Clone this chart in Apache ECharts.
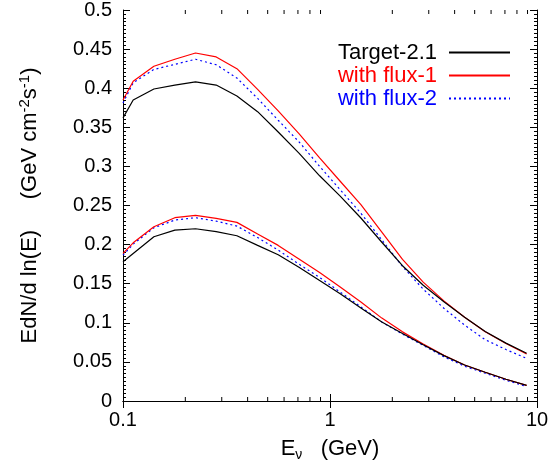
<!DOCTYPE html>
<html>
<head>
<meta charset="utf-8">
<script src="https://cdn.jsdelivr.net/npm/echarts@6/dist/echarts.min.js"></script>
<style>
html,body{margin:0;padding:0;background:#fff;}
#chart{width:559px;height:474px;}
</style>
</head>
<body>
<div id="chart"></div>
<script>
// Energies (GeV)
const energies = [0.1, 0.112, 0.141, 0.178, 0.224, 0.282, 0.355, 0.447, 0.562, 0.708, 0.891, 1.12, 1.41, 1.78, 2.24, 2.82, 3.55, 4.47, 5.62, 7.08, 8.91];
// Upper group of curves
const upperTarget = [0.362, 0.385, 0.399, 0.404, 0.408, 0.404, 0.390, 0.370, 0.344, 0.317, 0.288, 0.262, 0.234, 0.203, 0.173, 0.148, 0.127, 0.107, 0.089, 0.074, 0.061];
const upperFlux1  = [0.385, 0.409, 0.428, 0.437, 0.445, 0.440, 0.425, 0.3985, 0.371, 0.342, 0.311, 0.281, 0.251, 0.216, 0.181, 0.152, 0.128, 0.107, 0.0885, 0.0735, 0.060];
const upperFlux2  = [0.381, 0.407, 0.424, 0.4305, 0.437, 0.430, 0.413, 0.387, 0.359, 0.3315, 0.300, 0.270, 0.240, 0.206, 0.172, 0.143, 0.1186, 0.097, 0.0784, 0.0658, 0.0545];
// Lower group of curves
const lowerTarget = [0.178, 0.1887, 0.210, 0.2186, 0.2203, 0.2165, 0.2113, 0.199, 0.187, 0.171, 0.154, 0.137, 0.119, 0.101, 0.0864, 0.072, 0.058, 0.046, 0.0368, 0.0278, 0.0199];
const lowerFlux1  = [0.1887, 0.2023, 0.2228, 0.2344, 0.2374, 0.2335, 0.2284, 0.2135, 0.199, 0.1816, 0.1642, 0.1459, 0.1267, 0.106, 0.0884, 0.0729, 0.0585, 0.046, 0.0368, 0.0278, 0.0199];
const lowerFlux2  = [0.1865, 0.2006, 0.2215, 0.2314, 0.2344, 0.230, 0.2237, 0.209, 0.193, 0.175, 0.158, 0.1393, 0.1203, 0.101, 0.0855, 0.0712, 0.0565, 0.0445, 0.0355, 0.0265, 0.0186];
// Names / ticks
const seriesNames = ['Target-2.1', 'with flux-1', 'with flux-2'];
const xMinorTicks = [0.2, 0.3, 0.4, 0.5, 0.6, 0.7, 0.8, 0.9, 2, 3, 4, 5, 6, 7, 8, 9];

const FONT = "'Liberation Sans', Arial, Helvetica, sans-serif";
const colors = ['#000000', '#ff0000', '#0000ff'];
const pair = (ys) => energies.map((e, i) => [e, ys[i]]);

function lineSeries(name, ys, color, dashed) {
  return {
    name: name, type: 'line', data: pair(ys), symbol: 'none', smooth: false,
    lineStyle: { color: color, width: 1.2, type: dashed ? [2, 3] : 'solid' },
    itemStyle: { color: color },
    animation: false
  };
}

const chart = echarts.init(document.getElementById('chart'), null, { renderer: 'canvas' });

const axisCommon = {
  axisLine: { show: true, lineStyle: { color: '#000', width: 1 } },
  splitLine: { show: false }
};

const option = {
  animation: false,
  backgroundColor: '#fff',
  grid: { left: 123, right: 22, top: 10, bottom: 73, containLabel: false },
  legend: {
    orient: 'vertical', right: 43, top: 36, align: 'right',
    itemWidth: 61, itemHeight: 14, itemGap: 0,
    itemStyle: { opacity: 0 },
    textStyle: { fontFamily: FONT, fontSize: 22, lineHeight: 23, padding: [0, 7, 0, 0] },
    data: seriesNames.map((n, i) => ({ name: n, textStyle: { color: colors[i] } }))
  },
  xAxis: [
    Object.assign({}, axisCommon, {
      type: 'log', logBase: 10, min: 0.1, max: 10, position: 'bottom',
      axisTick: { show: true, inside: true, length: 7, lineStyle: { color: '#000' } },
      axisLabel: { show: true, fontFamily: FONT, fontSize: 20, color: '#000', margin: 9,
        formatter: (v) => String(+v.toPrecision(3)) },
      name: '{a|E}{sub|ν}{a|   (GeV)}',
      nameLocation: 'middle', nameGap: 35,
      nameTextStyle: {
        fontFamily: FONT, fontSize: 22, color: '#000',
        rich: {
          a: { fontFamily: FONT, fontSize: 22, color: '#000', lineHeight: 26 },
          sub: { fontFamily: FONT, fontSize: 14, color: '#000', lineHeight: 12, verticalAlign: 'bottom' }
        }
      }
    }),
    Object.assign({}, axisCommon, {
      type: 'log', logBase: 10, min: 0.1, max: 10, position: 'top',
      axisTick: { show: true, inside: true, length: 7, lineStyle: { color: '#000' } },
      axisLabel: { show: false }
    })
  ],
  yAxis: [
    Object.assign({}, axisCommon, {
      type: 'value', min: 0, max: 0.5, interval: 0.05, position: 'left',
      axisTick: { show: true, inside: true, length: 7, lineStyle: { color: '#000' } },
      minorTick: { show: true, splitNumber: 10, length: 3, lineStyle: { color: '#000' } },
      axisLabel: { show: true, fontFamily: FONT, fontSize: 20, color: '#000', margin: 11 },
      name: '{a|EdN/d ln(E)     (GeV cm}{sup|-2}{a|s}{sup|-1}{a|)}',
      nameLocation: 'middle', nameGap: 80, nameRotate: 90,
      nameTextStyle: {
        fontFamily: FONT, fontSize: 22, color: '#000',
        rich: {
          a: { fontFamily: FONT, fontSize: 22, color: '#000', lineHeight: 26 },
          sup: { fontFamily: FONT, fontSize: 15, color: '#000', lineHeight: 12, verticalAlign: 'top' }
        }
      }
    }),
    Object.assign({}, axisCommon, {
      type: 'value', min: 0, max: 0.5, interval: 0.05, position: 'right',
      axisTick: { show: true, inside: true, length: 7, lineStyle: { color: '#000' } },
      minorTick: { show: true, splitNumber: 10, length: 3, lineStyle: { color: '#000' } },
      axisLabel: { show: false }
    })
  ],
  series: [
    lineSeries(seriesNames[2], upperFlux2, colors[2], true),
    lineSeries(seriesNames[2], lowerFlux2, colors[2], true),
    lineSeries(seriesNames[1], upperFlux1, colors[1], false),
    lineSeries(seriesNames[1], lowerFlux1, colors[1], false),
    lineSeries(seriesNames[0], upperTarget, colors[0], false),
    lineSeries(seriesNames[0], lowerTarget, colors[0], false),
    {
      type: 'custom', silent: true, z: 10,
      data: xMinorTicks.map(v => [v, 0]),
      encode: { x: 0, y: 1 },
      renderItem: function (params, api) {
        const v = api.value(0);
        const b = api.coord([v, 0]);
        const t = api.coord([v, 0.5]);
        return {
          type: 'group',
          children: [
            { type: 'line', shape: { x1: b[0], y1: b[1], x2: b[0], y2: b[1] - 4 }, style: { stroke: '#000', lineWidth: 1 } },
            { type: 'line', shape: { x1: t[0], y1: t[1], x2: t[0], y2: t[1] + 4 }, style: { stroke: '#000', lineWidth: 1 } }
          ]
        };
      }
    }
  ]
};
chart.setOption(option);
</script>
</body>
</html>
